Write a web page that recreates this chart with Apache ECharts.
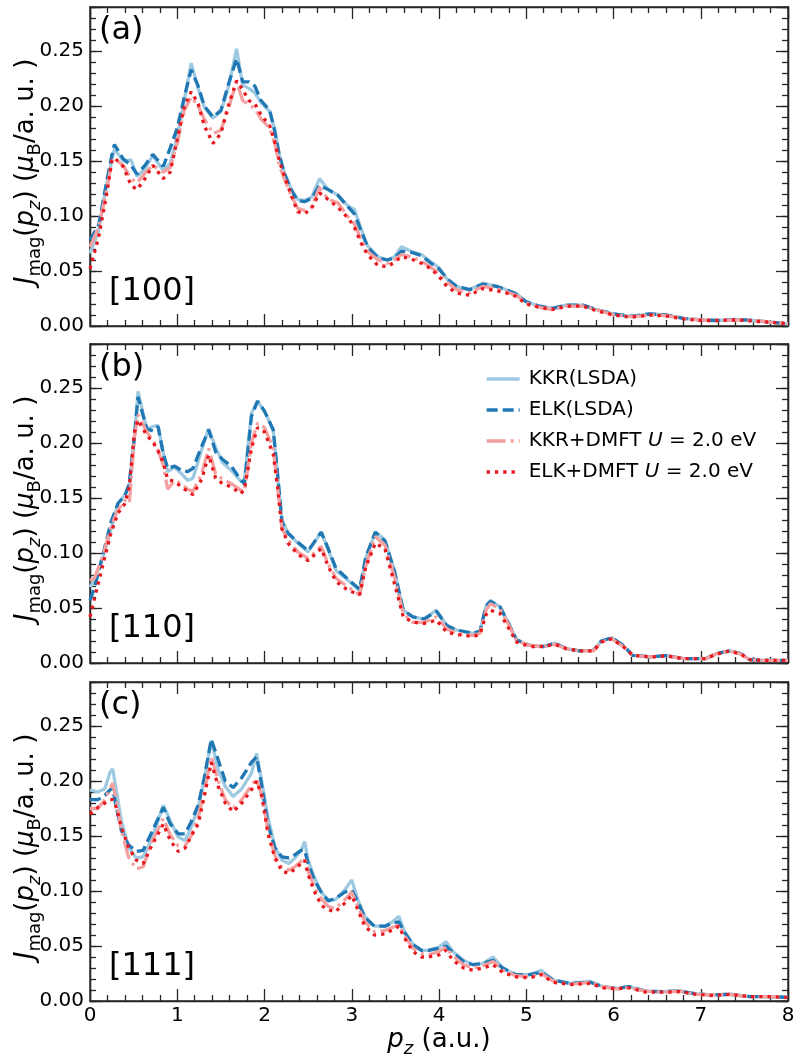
<!DOCTYPE html>
<html><head><meta charset="utf-8">
<script src="https://cdn.jsdelivr.net/npm/echarts@6/dist/echarts.min.js"></script>
<style>html,body{margin:0;padding:0;background:#fff}#c{width:802px;height:1062px}</style>
</head><body><div id="c"></div>
<script>
// ---------------- data ----------------
const seriesNames = ['KKR(LSDA)', 'ELK(LSDA)', 'KKR+DMFT U = 2.0 eV', 'ELK+DMFT U = 2.0 eV'];
const panelLetters = ['(a)', '(b)', '(c)'];
const directions = ['[100]', '[110]', '[111]'];
const xTicks = [0, 1, 2, 3, 4, 5, 6, 7, 8];
const yTicks = [0.00, 0.05, 0.10, 0.15, 0.20, 0.25];

// panel (a) [100]
const pzA = [0,0.1,0.2,0.25,0.28,0.38,0.47,0.54,0.63,0.72,0.84,0.92,1.0,1.08,1.16,1.24,1.31,1.41,1.5,1.58,1.68,1.75,1.82,1.89,1.96,2.06,2.12,2.17,2.23,2.31,2.38,2.46,2.54,2.63,2.73,2.84,2.96,3.03,3.11,3.18,3.3,3.41,3.49,3.57,3.68,3.8,3.91,4.0,4.09,4.2,4.35,4.5,4.66,4.77,4.88,5.0,5.15,5.3,5.46,5.65,5.8,6.0,6.2,6.42,6.61,6.8,7.0,7.18,7.41,7.6,7.79,8.0];
const kkrLsdaA = [0.066,0.087,0.133,0.150,0.161,0.150,0.151,0.136,0.143,0.155,0.141,0.148,0.172,0.205,0.239,0.216,0.199,0.189,0.195,0.215,0.252,0.219,0.216,0.212,0.203,0.195,0.178,0.156,0.139,0.124,0.115,0.114,0.117,0.134,0.124,0.119,0.109,0.106,0.088,0.073,0.063,0.060,0.063,0.072,0.068,0.065,0.058,0.053,0.043,0.036,0.033,0.039,0.036,0.033,0.030,0.022,0.018,0.016,0.019,0.019,0.015,0.011,0.0085,0.011,0.010,0.007,0.0055,0.005,0.006,0.005,0.0036,0.002];
const elkLsdaA = [0.078,0.092,0.135,0.155,0.165,0.152,0.146,0.138,0.146,0.156,0.145,0.162,0.180,0.208,0.233,0.218,0.200,0.190,0.196,0.218,0.243,0.222,0.222,0.218,0.205,0.196,0.176,0.155,0.138,0.123,0.114,0.113,0.116,0.128,0.124,0.119,0.108,0.102,0.086,0.072,0.062,0.060,0.062,0.068,0.067,0.064,0.057,0.052,0.043,0.036,0.033,0.038,0.036,0.033,0.029,0.022,0.018,0.016,0.019,0.019,0.015,0.011,0.009,0.011,0.010,0.007,0.0055,0.005,0.006,0.005,0.0036,0.002];
const kkrDmftA = [0.072,0.090,0.127,0.150,0.152,0.146,0.134,0.130,0.139,0.146,0.140,0.144,0.166,0.196,0.208,0.200,0.188,0.175,0.178,0.196,0.222,0.205,0.201,0.198,0.188,0.180,0.165,0.146,0.133,0.118,0.107,0.105,0.108,0.126,0.115,0.112,0.099,0.093,0.078,0.068,0.060,0.057,0.060,0.065,0.063,0.059,0.053,0.048,0.040,0.033,0.030,0.036,0.034,0.031,0.028,0.021,0.017,0.015,0.018,0.018,0.015,0.010,0.0085,0.010,0.0095,0.007,0.0055,0.005,0.0055,0.005,0.0035,0.002];
const elkDmftA = [0.052,0.081,0.124,0.150,0.153,0.145,0.128,0.124,0.134,0.146,0.134,0.140,0.170,0.199,0.213,0.202,0.182,0.166,0.175,0.199,0.223,0.215,0.205,0.202,0.192,0.182,0.167,0.150,0.136,0.118,0.104,0.102,0.107,0.121,0.115,0.108,0.098,0.090,0.075,0.065,0.055,0.054,0.058,0.063,0.061,0.057,0.052,0.045,0.036,0.030,0.028,0.034,0.032,0.030,0.027,0.020,0.017,0.015,0.018,0.018,0.014,0.010,0.008,0.010,0.009,0.0065,0.005,0.005,0.0055,0.0045,0.0035,0.002];

// panel (b) [110]
const pzB = [0,0.05,0.15,0.24,0.32,0.4,0.45,0.51,0.55,0.65,0.72,0.78,0.84,0.89,0.97,1.05,1.12,1.18,1.28,1.36,1.44,1.52,1.62,1.73,1.77,1.85,1.92,2.0,2.1,2.15,2.2,2.27,2.38,2.5,2.65,2.73,2.82,2.96,3.09,3.16,3.27,3.38,3.49,3.59,3.7,3.83,3.97,4.09,4.2,4.39,4.47,4.54,4.59,4.7,4.81,4.89,5.04,5.2,5.33,5.46,5.61,5.77,5.86,5.98,6.11,6.22,6.42,6.61,6.8,7.06,7.18,7.33,7.46,7.56,7.71,8.0];
const kkrLsdaB = [0.069,0.075,0.097,0.121,0.145,0.153,0.162,0.206,0.247,0.213,0.215,0.216,0.191,0.174,0.178,0.172,0.166,0.168,0.194,0.213,0.196,0.182,0.175,0.165,0.166,0.227,0.238,0.229,0.212,0.170,0.130,0.118,0.109,0.101,0.119,0.103,0.084,0.075,0.066,0.095,0.119,0.112,0.084,0.048,0.042,0.040,0.048,0.034,0.030,0.027,0.029,0.052,0.057,0.051,0.034,0.021,0.016,0.015,0.018,0.013,0.011,0.0115,0.020,0.023,0.016,0.007,0.0055,0.0067,0.004,0.004,0.0085,0.011,0.0085,0.003,0.0024,0.0024];
const elkLsdaB = [0.057,0.068,0.099,0.128,0.145,0.152,0.163,0.206,0.242,0.213,0.211,0.215,0.190,0.177,0.179,0.175,0.174,0.177,0.197,0.212,0.192,0.185,0.179,0.166,0.163,0.224,0.238,0.229,0.212,0.172,0.128,0.118,0.110,0.102,0.119,0.104,0.086,0.076,0.067,0.096,0.119,0.111,0.083,0.048,0.042,0.040,0.047,0.034,0.030,0.027,0.029,0.052,0.056,0.051,0.034,0.021,0.016,0.015,0.018,0.013,0.011,0.0115,0.020,0.023,0.016,0.007,0.0055,0.0067,0.004,0.004,0.0085,0.011,0.0085,0.003,0.0024,0.0024];
const kkrDmftB = [0.075,0.077,0.098,0.124,0.139,0.148,0.145,0.205,0.226,0.210,0.203,0.193,0.180,0.158,0.166,0.163,0.158,0.156,0.172,0.195,0.172,0.167,0.163,0.157,0.156,0.200,0.218,0.214,0.195,0.160,0.122,0.112,0.101,0.095,0.106,0.090,0.077,0.069,0.062,0.088,0.115,0.107,0.078,0.045,0.037,0.037,0.042,0.031,0.027,0.025,0.027,0.048,0.054,0.049,0.033,0.020,0.016,0.015,0.017,0.013,0.011,0.011,0.019,0.022,0.015,0.007,0.0055,0.0065,0.004,0.004,0.0085,0.011,0.008,0.003,0.0024,0.0024];
const elkDmftB = [0.042,0.058,0.090,0.118,0.136,0.145,0.160,0.210,0.221,0.207,0.201,0.193,0.182,0.167,0.165,0.160,0.156,0.153,0.167,0.189,0.168,0.163,0.160,0.154,0.158,0.195,0.214,0.210,0.190,0.160,0.122,0.109,0.099,0.093,0.104,0.088,0.074,0.066,0.062,0.087,0.109,0.104,0.072,0.042,0.037,0.036,0.039,0.028,0.026,0.024,0.026,0.044,0.048,0.045,0.030,0.019,0.015,0.015,0.017,0.013,0.011,0.011,0.019,0.022,0.015,0.007,0.0055,0.0065,0.004,0.004,0.008,0.011,0.008,0.003,0.0024,0.0024];

// panel (c) [111]
const pzC = [0,0.09,0.17,0.23,0.26,0.3,0.36,0.44,0.53,0.61,0.7,0.84,0.92,1.01,1.09,1.16,1.24,1.31,1.39,1.47,1.55,1.64,1.74,1.85,1.91,1.97,2.04,2.12,2.2,2.28,2.35,2.42,2.46,2.5,2.57,2.65,2.73,2.81,2.92,3.0,3.07,3.15,3.26,3.38,3.47,3.54,3.6,3.7,3.8,3.88,4.0,4.08,4.16,4.28,4.39,4.5,4.62,4.73,4.88,5.04,5.17,5.31,5.5,5.73,5.88,6.03,6.18,6.37,6.57,6.76,6.95,7.14,7.33,7.56,7.79,8.0];
const kkrLsdaC = [0.192,0.190,0.193,0.208,0.211,0.192,0.164,0.140,0.130,0.131,0.146,0.178,0.164,0.149,0.146,0.158,0.176,0.201,0.237,0.210,0.195,0.186,0.193,0.207,0.225,0.199,0.167,0.140,0.128,0.125,0.130,0.137,0.145,0.128,0.113,0.099,0.092,0.092,0.101,0.110,0.092,0.077,0.068,0.068,0.072,0.077,0.064,0.052,0.046,0.046,0.049,0.054,0.045,0.037,0.033,0.034,0.040,0.030,0.024,0.024,0.028,0.019,0.016,0.018,0.013,0.0115,0.013,0.009,0.0085,0.0094,0.0064,0.0055,0.0064,0.004,0.004,0.0033];
const elkLsdaC = [0.183,0.183,0.187,0.192,0.193,0.177,0.155,0.142,0.136,0.137,0.152,0.176,0.161,0.152,0.152,0.163,0.178,0.203,0.238,0.219,0.200,0.194,0.203,0.217,0.222,0.195,0.160,0.139,0.131,0.130,0.133,0.137,0.137,0.125,0.110,0.099,0.091,0.093,0.099,0.101,0.090,0.076,0.068,0.068,0.071,0.072,0.063,0.051,0.046,0.046,0.048,0.050,0.044,0.036,0.033,0.034,0.037,0.030,0.024,0.024,0.026,0.019,0.016,0.017,0.013,0.0115,0.013,0.009,0.0085,0.009,0.0064,0.0055,0.006,0.004,0.004,0.0033];
const kkrDmftC = [0.175,0.175,0.183,0.193,0.198,0.183,0.155,0.131,0.120,0.122,0.143,0.166,0.151,0.141,0.141,0.150,0.167,0.190,0.222,0.200,0.183,0.175,0.183,0.196,0.202,0.186,0.155,0.132,0.121,0.119,0.122,0.127,0.130,0.118,0.104,0.093,0.086,0.084,0.092,0.099,0.086,0.072,0.063,0.064,0.067,0.069,0.060,0.048,0.043,0.042,0.045,0.049,0.041,0.033,0.030,0.032,0.036,0.028,0.023,0.022,0.025,0.018,0.015,0.017,0.013,0.011,0.012,0.009,0.008,0.009,0.006,0.0055,0.006,0.004,0.004,0.0033];
const elkDmftC = [0.170,0.176,0.180,0.183,0.183,0.176,0.158,0.140,0.128,0.125,0.140,0.161,0.146,0.136,0.139,0.150,0.161,0.186,0.217,0.195,0.180,0.172,0.180,0.192,0.200,0.186,0.152,0.130,0.118,0.116,0.120,0.125,0.128,0.115,0.100,0.087,0.083,0.081,0.089,0.096,0.083,0.068,0.060,0.061,0.065,0.068,0.058,0.045,0.040,0.040,0.042,0.046,0.037,0.030,0.028,0.030,0.033,0.026,0.022,0.021,0.024,0.017,0.015,0.016,0.012,0.011,0.012,0.008,0.008,0.0085,0.006,0.005,0.006,0.004,0.004,0.003];

const panels = [
  { pz: pzA, values: [kkrLsdaA, elkLsdaA, kkrDmftA, elkDmftA] },
  { pz: pzB, values: [kkrLsdaB, elkLsdaB, kkrDmftB, elkDmftB] },
  { pz: pzC, values: [kkrLsdaC, elkLsdaC, kkrDmftC, elkDmftC] }
];

// ---------------- styling ----------------
const FONT = 'DejaVu Sans';
const AX = '#262626';
const gridTops = [7, 344, 682];
const GRID_H = 319, GRID_L = 90, GRID_R = 14;
const lineStyles = [
  { color: '#9ecae1', width: 3.3, type: 'solid' },
  { color: '#1f77b4', width: 3.3, type: [11, 5] },
  { color: '#f4a0a0', width: 3.3, type: [19, 5, 3, 5] },
  { color: '#e8191e', width: 3.3, type: [3.3, 5] }
];
const tickLine = { color: AX, width: 1.3 };

const grid = gridTops.map(t => ({
  left: GRID_L, right: GRID_R, top: t, height: GRID_H,
  show: true, borderColor: AX, borderWidth: 1.3, backgroundColor: 'transparent'
}));

const xAxis = [];
const yAxis = [];
const isMajorY = v => Math.abs(v * 20 - Math.round(v * 20)) < 1e-6;
for (let i = 0; i < 3; i++) {
  ['bottom', 'top'].forEach(pos => {
    xAxis.push({
      type: 'value', gridIndex: i, position: pos, min: xTicks[0], max: xTicks[xTicks.length - 1], interval: 1,
      axisLine: { show: true, onZero: false, lineStyle: tickLine }, splitLine: { show: false },
      axisTick: { show: true, inside: true, length: 12, lineStyle: tickLine },
      minorTick: { show: true, splitNumber: 5, length: 6, lineStyle: tickLine },
      axisLabel: { show: i === 2 && pos === 'bottom', margin: 5, fontSize: 20, fontFamily: FONT, color: '#000' }
    });
  });
  ['left', 'right'].forEach(pos => {
    [false, true].forEach(minor => {
      yAxis.push({
        type: 'value', gridIndex: i, position: pos, min: 0, max: 0.29, interval: minor ? 0.01 : 0.05,
        axisLine: { show: true, onZero: false, lineStyle: tickLine }, splitLine: { show: false },
        axisTick: { show: true, inside: true, length: minor ? 6 : 12, lineStyle: tickLine },
        axisLabel: {
          show: pos === 'left' && !minor, margin: 6, fontSize: 20, fontFamily: FONT, color: '#000',
          formatter: v => (isMajorY(v) && yTicks.some(t => Math.abs(t - v) < 1e-6)) ? v.toFixed(2) : ''
        }
      });
    });
  });
}

const series = [];
panels.forEach((p, i) => {
  p.values.forEach((vals, k) => {
    series.push({
      name: seriesNames[k], type: 'line', xAxisIndex: 2 * i, yAxisIndex: 4 * i,
      data: p.pz.map((x, j) => [x, vals[j]]),
      symbol: 'none', showSymbol: false, smooth: false, silent: true,
      lineStyle: { color: lineStyles[k].color, width: lineStyles[k].width, type: lineStyles[k].type, cap: 'butt' },
      itemStyle: { color: lineStyles[k].color },
      z: 2 + k
    });
  });
});

const richBase = {
  n: { fontFamily: FONT, fontSize: 26, lineHeight: 36, verticalAlign: 'middle', color: '#000' },
  i: { fontFamily: FONT, fontSize: 26, fontStyle: 'italic', lineHeight: 36, verticalAlign: 'middle', color: '#000' },
  s: { fontFamily: FONT, fontSize: 18, lineHeight: 18, verticalAlign: 'bottom', color: '#000' },
  si: { fontFamily: FONT, fontSize: 18, fontStyle: 'italic', lineHeight: 18, verticalAlign: 'bottom', color: '#000' }
};
const yLabelText = '{i|J}{s|mag}{n|(}{i|p}{si|z}{n|) (}{i|μ}{s|B}{n|/a. u. )}';

const graphic = [];
gridTops.forEach((t, i) => {
  graphic.push({ type: 'text', x: 99, y: t + 8, silent: true,
    style: { text: panelLetters[i], fontFamily: FONT, fontSize: 32, fill: '#000', verticalAlign: 'top' } });
  graphic.push({ type: 'text', x: 109, y: t + 269, silent: true,
    style: { text: directions[i], fontFamily: FONT, fontSize: 32, fill: '#000', verticalAlign: 'top' } });
  graphic.push({ type: 'text', x: 26, y: t + GRID_H / 2 + 5, rotation: Math.PI / 2, silent: true,
    style: { text: yLabelText, rich: richBase, align: 'center', verticalAlign: 'middle' } });
});
graphic.push({ type: 'text', x: 439, y: 1040, silent: true,
  style: { text: '{i|p}{si|z}{n| (a.u.)}', rich: richBase, align: 'center', verticalAlign: 'middle' } });

const chart = echarts.init(document.getElementById('c'));
chart.setOption({
  animation: false,
  backgroundColor: '#fff',
  grid, xAxis, yAxis, series, graphic,
  legend: {
    data: seriesNames, orient: 'vertical', left: 480, top: 364,
    itemWidth: 33, itemHeight: 14, itemGap: 11, selectedMode: false,
    itemStyle: { opacity: 0 },
    lineStyle: { width: 3.3 },
    textStyle: {
      fontFamily: FONT, fontSize: 20, color: '#000', padding: [0, 0, 0, 4],
      rich: { i: { fontFamily: FONT, fontSize: 20, fontStyle: 'italic', color: '#000' } }
    },
    formatter: name => name.replace(' U =', ' {i|U} =')
  }
});
</script>
</body></html>
